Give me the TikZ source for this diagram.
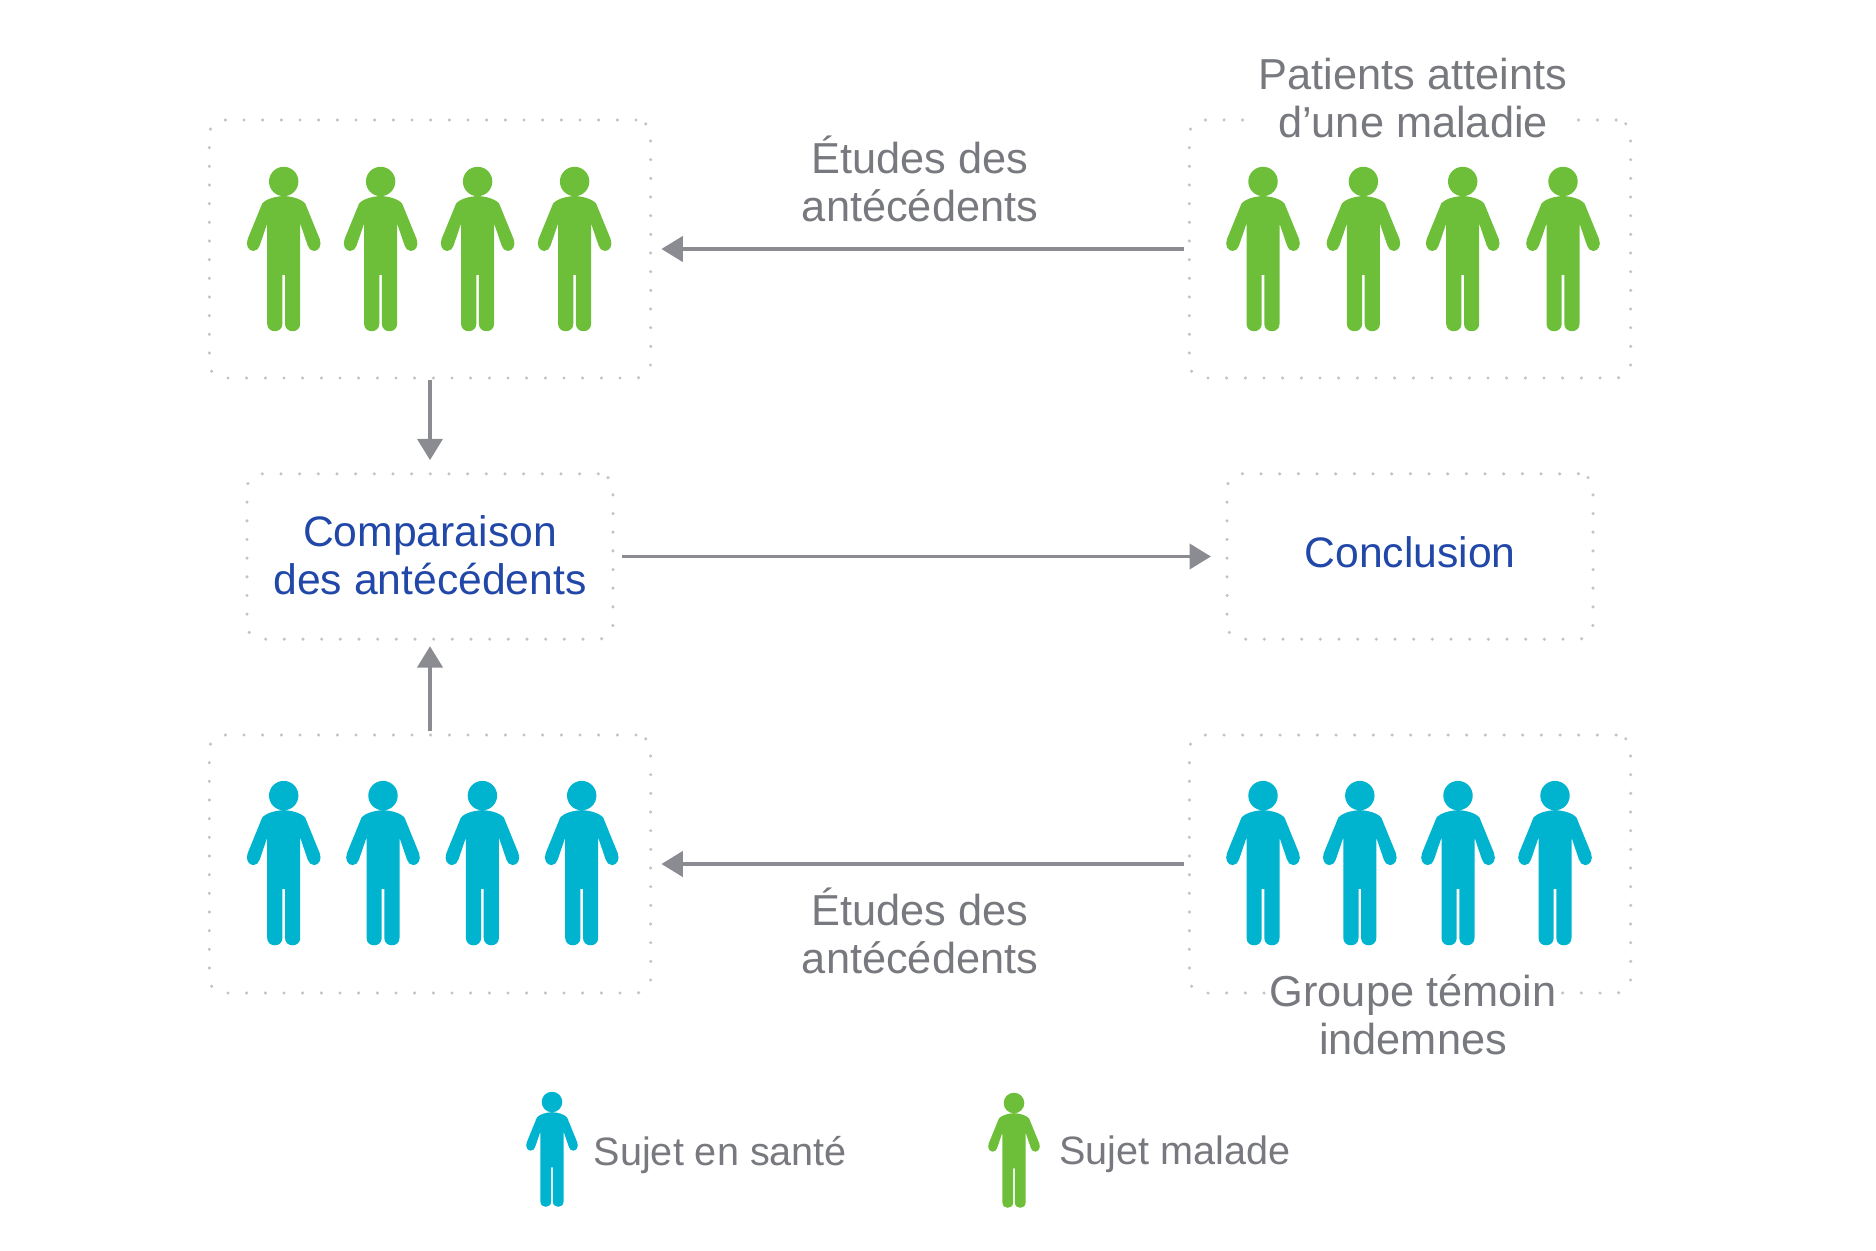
\documentclass[tikz,border=0pt]{standalone}
\usepackage{fontspec}
\setmainfont{Liberation Sans}
\usetikzlibrary{arrows.meta}

\definecolor{vert}{HTML}{6DBF39}
\definecolor{cyan}{HTML}{00B3CF}
\definecolor{marine}{HTML}{2147A8}
\definecolor{gristexte}{HTML}{77797F}
\definecolor{grisfleche}{HTML}{8A8C92}
\definecolor{pointille}{HTML}{C2C3C6}

\tikzset{
  cadre/.style={draw=pointille, line width=2.6pt, dash pattern=on 0pt off 14pt,
    line cap=round, rounded corners=11pt, inner sep=0pt, align=center,
    text=marine, text depth=6pt, font=\fontsize{32}{36}\selectfont},
  groupe/.style={cadre, minimum width=331pt, minimum height=193.5pt},
  etape/.style={cadre, minimum width=274.5pt, minimum height=124pt},
  etiquette/.style={text=gristexte, align=center, inner sep=0pt,
    font=\fontsize{32.5}{36}\selectfont},
  legende/.style={text=gristexte, anchor=west, inner sep=0pt,
    font=\fontsize{29.7}{36}\selectfont},
  fleche/.style={draw=grisfleche, line width=2.4pt,
    -{Triangle[length=16pt,width=19pt]}},
  personne/.pic={
    \path[pic actions] (0,15) circle (14.7);
    \path[pic actions] (0,29.5) .. controls (-8,30) and (-17,32) .. (-21.5,37)
      -- (-36,72.5) .. controls (-38.5,79) and (-35,84.5) .. (-30.3,84.5)
      .. controls (-27,84.5) and (-25,82) .. (-24,79) -- (-16.5,57) -- (-16.5,157.4)
      .. controls (-16.5,162) and (-13,164.7) .. (-8.9,164.7)
      .. controls (-4.8,164.7) and (-1.3,162) .. (-1.3,157.4) -- (-1.3,108.3)
      -- (1.3,108.3) -- (1.3,157.4)
      .. controls (1.3,162) and (4.8,164.7) .. (8.9,164.7)
      .. controls (13,164.7) and (16.5,162) .. (16.5,157.4) -- (16.5,57)
      -- (24,79) .. controls (25,82) and (27,84.5) .. (30.3,84.5)
      .. controls (35,84.5) and (38.5,79) .. (36,72.5) -- (21.5,37)
      .. controls (17,32) and (8,30) .. (0,29.5) -- cycle;
  }
}

\begin{document}
\begin{tikzpicture}[x=0.75pt, y=-0.75pt]
  \useasboundingbox (0,0) rectangle (1876,1251);

  % cadres
  \node[groupe] (malades) at (430,249) {};
  \node[groupe] (patients) at (1410,249) {};
  \node[etape, text depth=2.4pt] (comparaison) at (430,556.5) {Comparaison\\des antécédents};
  \node[etape] (conclusion) at (1410,556.5) {Conclusion};
  \node[groupe] (sains) at (430,864) {};
  \node[groupe] (temoins) at (1410,864) {};

  % personnages
  \foreach \x in {283.7,380.6,477.6,574.6}
    \pic[fill=vert] at (\x,166.5) {personne};
  \foreach \x in {1263,1363.4,1462.7,1563}
    \pic[fill=vert] at (\x,166.5) {personne};
  \foreach \x in {283.7,383,482.4,581.7}
    \pic[fill=cyan] at (\x,780.6) {personne};
  \foreach \x in {1263,1359.8,1458,1555}
    \pic[fill=cyan] at (\x,780.6) {personne};

  % fleches
  \draw[fleche, shorten <=2.7pt, shorten >=6.8pt] (patients.west) -- (malades.east);
  \draw[fleche, shorten <=2.7pt, shorten >=6.8pt] (temoins.west) -- (sains.east);
  \draw[fleche, shorten >=9pt] (malades.south) -- (comparaison.north);
  \draw[fleche, shorten <=1.5pt, shorten >=4pt] (sains.north) -- (comparaison.south);
  \draw[fleche, shorten <=5.4pt, shorten >=10.8pt] (comparaison.east) -- (conclusion.west);

  % textes
  \node[etiquette] (etudeshaut) at (920,179) {Études des\\antécédents};
  \node[etiquette] (etudesbas) at (920,930.5) {Études des\\antécédents};
  \node[etiquette, fill=white] (titrepatients) at (1413,98) {Patients atteints\\d’une maladie};
  \node[etiquette, fill=white] (titretemoins) at (1413,1015) {Groupe témoin\\indemnes};

  % legende
  \pic[fill=cyan, scale=0.7] at (552,1091.5) {personne};
  \pic[fill=vert, scale=0.7] at (1014,1092.5) {personne};
  \node[legende] (legendesain) at (593.5,1154.6) {Sujet en santé};
  \node[legende] (legendemalade) at (1059,1154.6) {Sujet malade};
\end{tikzpicture}
\end{document}
